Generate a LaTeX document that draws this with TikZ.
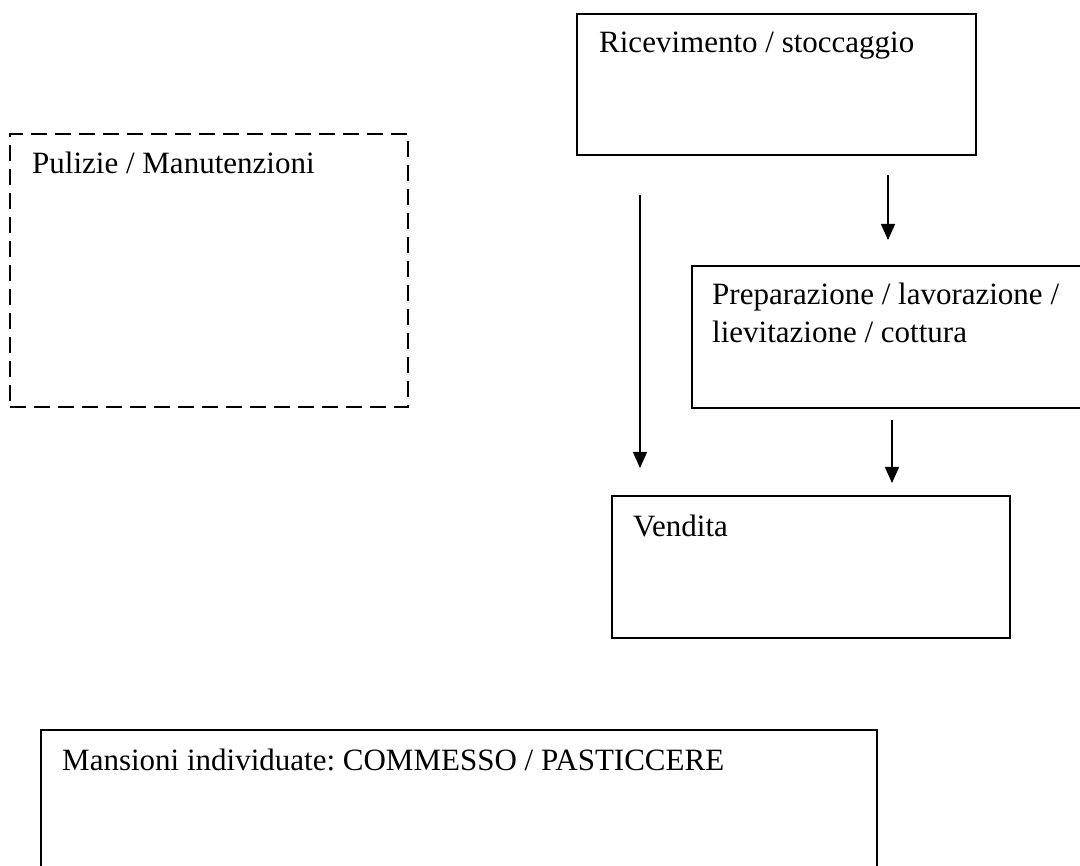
\documentclass[tikz,border=0pt]{standalone}
\usepackage{fontspec}
\setmainfont{Liberation Serif}
\usetikzlibrary{arrows.meta}
\frenchspacing
\begin{document}
\begin{tikzpicture}[x=1pt,y=-1pt,
  box/.style={draw, line width=1.6pt, inner sep=0pt, outer sep=0pt, anchor=north west},
  dbox/.style={box, line width=1.5pt, dash pattern=on 16pt off 8pt},
  lbl/.style={anchor=base west, inner sep=0pt, font=\fontsize{31}{38}\selectfont},
  arr/.style={-{Triangle[width=14pt,length=16pt]}, line width=1.4pt}]
\useasboundingbox (0,0) rectangle (1080,866);
% boxes
\node[box, minimum width=399pt, minimum height=141pt] (ric) at (577,14) {};
\node[dbox, minimum width=398pt, minimum height=273pt] (pul) at (10,134) {};
\node[box, minimum width=400pt, minimum height=142pt] (prep) at (692,266) {};
\node[box, minimum width=398pt, minimum height=142pt] (ven) at (612,496) {};
\node[box, minimum width=836pt, minimum height=150pt] (man) at (41,730) {};
% labels
\node[lbl] (ric-t) at (599,53) {Ricevimento / stoccaggio};
\node[lbl] (pul-t) at (32,174) {Pulizie / Manutenzioni};
\node[lbl] (prep-t) at (712,305) {\parbox[t]{360pt}{Preparazione / lavorazione /\\lievitazione / cottura}};
\node[lbl] (ven-t) at (633,537) {Vendita};
\node[lbl] (man-t) at (62,770) {Mansioni individuate: COMMESSO / PASTICCERE};
% arrows
\coordinate (a1) at (888,0);
\coordinate (a2) at (640,0);
\coordinate (a3) at (892,0);
\draw[arr, shorten <=20pt, shorten >=26pt] (ric.south -| a1) -- (prep.north -| a1);
\draw[arr, shorten <=40pt, shorten >=28pt] (ric.south -| a2) -- (ven.north -| a2);
\draw[arr, shorten <=12pt, shorten >=13pt] (prep.south -| a3) -- (ven.north -| a3);
\end{tikzpicture}
\end{document}
